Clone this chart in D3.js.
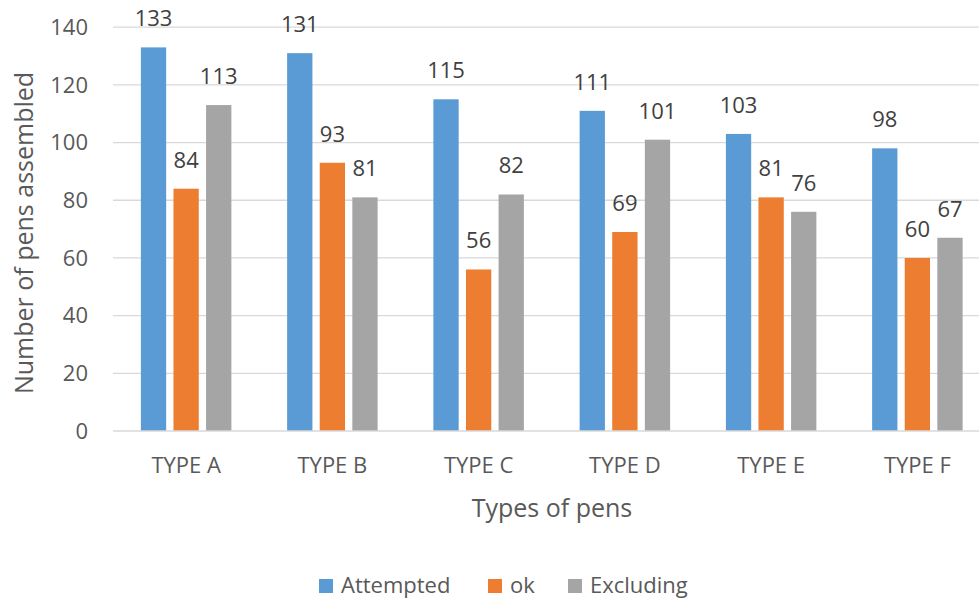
<!DOCTYPE html>
<html>
<head>
<meta charset="utf-8">
<script src="https://cdn.jsdelivr.net/npm/d3@7"></script>
<style>
  body { margin: 0; background: #fff; }
  svg { display: block; }
  svg, svg text { font-family: "Open Sans", "Noto Sans", sans-serif; }
</style>
</head>
<body>
<svg id="chart" width="979" height="601"></svg>
<script>
// Pens assembled per type, three series
const categories = ["TYPE A", "TYPE B", "TYPE C", "TYPE D", "TYPE E", "TYPE F"];
const seriesNames = ["Attempted", "ok", "Excluding"];
const attempted = [133, 131, 115, 111, 103, 98];
const ok = [84, 93, 56, 69, 81, 60];
const excluding = [113, 81, 82, 101, 76, 67];
const yTicks = [0, 20, 40, 60, 80, 100, 120, 140];
const colors = ["#5B9BD5", "#ED7D31", "#A5A5A5"];

const seriesValues = [attempted, ok, excluding];

const svg = d3.select("#chart");

const plot = { left: 113, right: 990.5, top: 27.2, bottom: 431 };

const x0 = d3.scaleBand().domain(categories).range([plot.left, plot.right]).padding(0);
const groupW = 90.5;
const x1 = d3.scaleBand().domain(seriesNames).range([-groupW / 2, groupW / 2]).paddingInner(0.224).paddingOuter(0);
const y = d3.scaleLinear().domain([0, 140]).range([plot.bottom, plot.top]);

// Gridlines
svg.append("g")
  .selectAll("line")
  .data(yTicks.filter(d => d > 0))
  .join("line")
  .attr("x1", plot.left).attr("x2", plot.right)
  .attr("y1", d => y(d)).attr("y2", d => y(d))
  .attr("stroke", "#D9D9D9").attr("stroke-width", 1.3);

// Y axis tick labels
const yAxis = d3.axisLeft(y).tickValues(yTicks).tickSize(0).tickPadding(0);
const yg = svg.append("g").attr("transform", `translate(88,0)`).call(yAxis)
  .attr("font-family", null).attr("font-size", null);
yg.select(".domain").remove();
yg.selectAll("text")
  .attr("fill", "#595959")
  .style("font-size", "22px")
  .attr("dy", "0.33em");

// Bars
const groups = svg.append("g")
  .selectAll("g")
  .data(categories)
  .join("g")
  .attr("transform", d => `translate(${x0(d) + x0.bandwidth() / 2},0)`);

groups.selectAll("rect")
  .data((d, i) => seriesNames.map((s, j) => ({ s, j, v: seriesValues[j][i] })))
  .join("rect")
  .attr("x", d => x1(d.s))
  .attr("width", x1.bandwidth())
  .attr("y", d => y(d.v))
  .attr("height", d => y(0) - y(d.v))
  .attr("fill", d => colors[d.j]);

// Value labels
groups.selectAll("text.val")
  .data((d, i) => seriesNames.map((s, j) => ({ s, j, v: seriesValues[j][i] })))
  .join("text")
  .attr("class", "val")
  .attr("x", d => x1(d.s) + x1.bandwidth() / 2)
  .attr("y", d => y(d.v) - 21)
  .attr("text-anchor", "middle")
  .attr("fill", "#404040")
  .style("font-size", "22px")
  .text(d => d.v);

// X axis line
svg.append("line")
  .attr("x1", plot.left).attr("x2", plot.right)
  .attr("y1", plot.bottom).attr("y2", plot.bottom)
  .attr("stroke", "#D9D9D9").attr("stroke-width", 1.3);

// X axis category labels
const xAxis = d3.axisBottom(x0).tickSize(0).tickPadding(0);
const xg = svg.append("g").attr("transform", `translate(0,${plot.bottom})`).call(xAxis)
  .attr("font-family", null).attr("font-size", null);
xg.select(".domain").remove();
xg.selectAll("text")
  .attr("fill", "#595959")
  .style("font-size", "22px")
  .attr("y", 42)
  .attr("dy", 0);

// Axis titles
svg.append("text")
  .attr("x", 552).attr("y", 517)
  .attr("text-anchor", "middle")
  .attr("fill", "#595959")
  .style("font-size", "25px")
  .text("Types of pens");

svg.append("text")
  .attr("transform", "translate(33,233) rotate(-90)")
  .attr("text-anchor", "middle")
  .attr("fill", "#595959")
  .style("font-size", "25px")
  .text("Number of pens assembled");

// Legend
const legendX = [319, 488, 568];
const legend = svg.append("g")
  .selectAll("g")
  .data(seriesNames)
  .join("g")
  .attr("transform", (d, i) => `translate(${legendX[i]},579)`);
legend.append("rect").attr("width", 14).attr("height", 14).attr("fill", (d, i) => colors[i]);
legend.append("text")
  .attr("x", 22).attr("y", 14)
  .attr("fill", "#595959")
  .style("font-size", "22px")
  .text(d => d);
</script>
</body>
</html>
